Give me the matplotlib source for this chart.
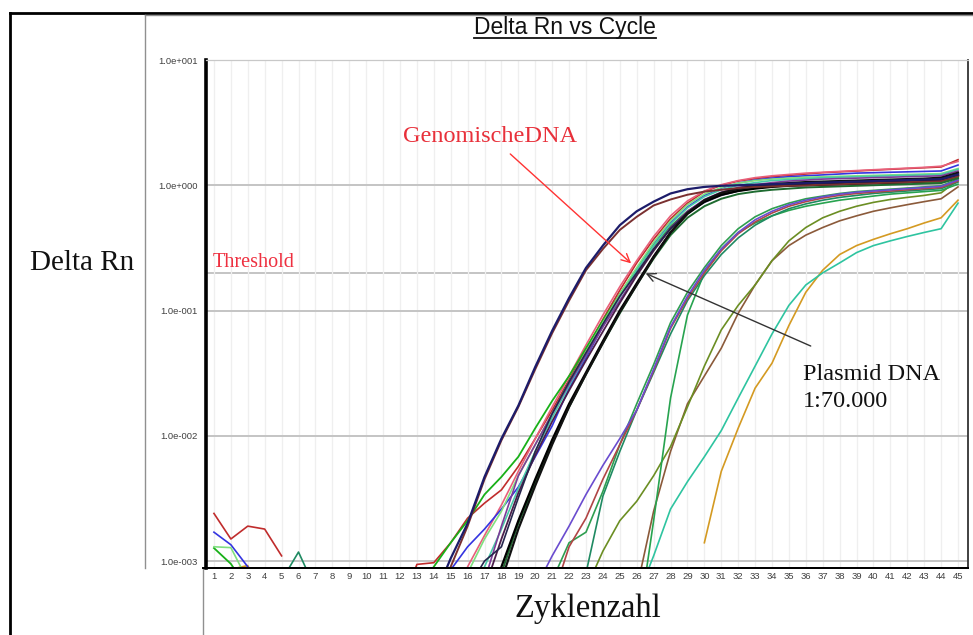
import numpy as np
import matplotlib
matplotlib.use("Agg")
import matplotlib.pyplot as plt
from matplotlib.lines import Line2D
from matplotlib.ticker import NullLocator

nan = np.nan

# cycle axis, threshold and y tick labels
cycles = np.arange(1, 46)
threshold = 0.2
y_ticks = [1e-3, 1e-2, 1e-1, 1, 10]
y_tick_labels = ["1.0e-003", "1.0e-002", "1.0e-001", "1.0e+000", "1.0e+001"]

# Delta Rn per cycle (start cycle + values up to cycle 45)
navy_start = 14
navy = [0.0005, 0.00105, 0.002, 0.0047, 0.0095, 0.0174, 0.0355, 0.069, 0.126, 0.219,
        0.33, 0.48, 0.62, 0.74, 0.86, 0.93, 0.97, 0.99, 1.0, 1.01, 1.02, 1.03, 1.04,
        1.05, 1.06, 1.07, 1.08, 1.09, 1.10, 1.11, 1.12, 1.22]
brown_a_start = 14
brown_a = [0.0004, 0.0009, 0.0019, 0.0045, 0.0092, 0.017, 0.034, 0.066, 0.12, 0.21,
           0.31, 0.44, 0.56, 0.69, 0.77, 0.84, 0.89, 0.92, 0.95, 0.97, 0.98, 0.99, 1.0,
           1.01, 1.02, 1.03, 1.04, 1.05, 1.06, 1.07, 1.08, 1.18]

# genomic DNA bundle
red_noise = [0.0024, 0.0015, 0.0019, 0.0018, 0.0011]
red_start = 12
red = [0.0004, 0.00094, 0.00097, 0.0014, 0.0022, 0.0029, 0.0037, 0.0057, 0.0095, 0.016,
       0.028, 0.049, 0.085, 0.145, 0.24, 0.37, 0.54, 0.72, 0.89, 1.0, 1.08, 1.13, 1.17,
       1.2, 1.23, 1.26, 1.28, 1.30, 1.32, 1.34, 1.36, 1.38, 1.40, 1.60]
green_noise = [0.00127, 0.00095, 0.0006]
green_start = 14
green = [0.0009, 0.0014, 0.0021, 0.0034, 0.0047, 0.0068, 0.0115, 0.019, 0.03, 0.05,
         0.083, 0.135, 0.215, 0.33, 0.47, 0.62, 0.75, 0.85, 0.92, 0.96, 0.99, 1.01,
         1.02, 1.025, 1.03, 1.035, 1.04, 1.045, 1.05, 1.055, 1.06, 1.16]
blue_noise = [0.0017, 0.00135, 0.0009, 0.0005]
blue_start = 15
blue = [0.00085, 0.0013, 0.0018, 0.0026, 0.0039, 0.0068, 0.012, 0.024, 0.042, 0.075,
        0.13, 0.21, 0.34, 0.50, 0.67, 0.83, 0.95, 1.04, 1.10, 1.14, 1.17, 1.19, 1.21,
        1.23, 1.25, 1.26, 1.27, 1.28, 1.29, 1.30, 1.45]
lightgreen_noise = [0.0013, 0.00128, 0.0007]
lightgreen_start = 16
lightgreen = [0.0008, 0.0015, 0.0025, 0.0048, 0.0085, 0.015, 0.027, 0.047, 0.08, 0.135,
              0.22, 0.35, 0.52, 0.70, 0.85, 0.96, 1.04, 1.09, 1.12, 1.14, 1.16, 1.17,
              1.18, 1.19, 1.20, 1.21, 1.22, 1.23, 1.24, 1.36]
darknavy_start = 16
darknavy = [0.0006, 0.001, 0.0013, 0.0032, 0.0075, 0.015, 0.027, 0.046, 0.078, 0.13,
            0.20, 0.31, 0.45, 0.60, 0.73, 0.83, 0.90, 0.95, 0.98, 1.0, 1.02, 1.03, 1.04,
            1.05, 1.06, 1.07, 1.08, 1.09, 1.10, 1.20]
purple_start = 17
purple = [0.0007, 0.0019, 0.0048, 0.0085, 0.015, 0.026, 0.044, 0.074, 0.12, 0.195,
          0.31, 0.46, 0.62, 0.77, 0.88, 0.96, 1.01, 1.05, 1.08, 1.10, 1.12, 1.13, 1.14,
          1.15, 1.16, 1.17, 1.18, 1.19, 1.30]
pink_start = 15
pink = [0.0004, 0.0009, 0.0016, 0.0028, 0.0052, 0.0095, 0.017, 0.03, 0.053, 0.092, 0.155,
        0.25, 0.39, 0.57, 0.75, 0.90, 1.01, 1.09, 1.15, 1.19, 1.22, 1.25, 1.27, 1.29,
        1.31, 1.33, 1.35, 1.37, 1.39, 1.42, 1.55]
turq_start = 16
turq = [0.0004, 0.0009, 0.0018, 0.0038, 0.0075, 0.014, 0.025, 0.044, 0.076, 0.128, 0.21,
        0.33, 0.49, 0.66, 0.81, 0.92, 1.0, 1.05, 1.09, 1.11, 1.13, 1.15, 1.16, 1.17,
        1.18, 1.19, 1.20, 1.21, 1.22, 1.34]
darkpurple_start = 17
darkpurple = [0.0006, 0.0015, 0.0035, 0.007, 0.013, 0.023, 0.04, 0.068, 0.115, 0.19,
              0.30, 0.45, 0.61, 0.75, 0.86, 0.93, 0.98, 1.01, 1.03, 1.05, 1.06, 1.07,
              1.08, 1.09, 1.10, 1.11, 1.12, 1.13, 1.24]
darkgreen_start = 17
darkgreen = [0.0003, 0.0008, 0.002, 0.0042, 0.0088, 0.017, 0.031, 0.055, 0.095, 0.16,
             0.26, 0.40, 0.55, 0.68, 0.78, 0.85, 0.89, 0.92, 0.94, 0.96, 0.97, 0.98,
             0.99, 1.0, 1.01, 1.02, 1.03, 1.04, 1.14]
black1_start = 17
black1 = [0.0003, 0.0009, 0.0021, 0.0045, 0.0093, 0.018, 0.032, 0.057, 0.10, 0.165,
          0.27, 0.42, 0.59, 0.74, 0.84, 0.90, 0.94, 0.97, 0.99, 1.0, 1.01, 1.02, 1.03,
          1.04, 1.05, 1.06, 1.08, 1.10, 1.20]
black2_start = 17
black2 = [0.0003, 0.0007, 0.0018, 0.004, 0.0085, 0.017, 0.031, 0.055, 0.097, 0.16,
          0.265, 0.42, 0.60, 0.76, 0.87, 0.94, 0.99, 1.02, 1.04, 1.06, 1.07, 1.08, 1.09,
          1.10, 1.11, 1.12, 1.13, 1.15, 1.26]

# later curves (plasmid dilutions)
violet_start = 20
violet = [0.0006, 0.0011, 0.0019, 0.0034, 0.0058, 0.0095, 0.016, 0.034, 0.074, 0.13,
          0.21, 0.31, 0.42, 0.53, 0.62, 0.70, 0.76, 0.81, 0.85, 0.88, 0.90, 0.92, 0.94,
          0.96, 0.98, 1.10]
redbrown_start = 21
redbrown = [0.0005, 0.0013, 0.0022, 0.0045, 0.0085, 0.016, 0.033, 0.072, 0.125, 0.20,
            0.30, 0.41, 0.51, 0.60, 0.68, 0.74, 0.79, 0.83, 0.86, 0.88, 0.90, 0.92,
            0.94, 0.96, 1.08]
midgreen_start = 21
midgreen = [0.0007, 0.0014, 0.0017, 0.0036, 0.0085, 0.018, 0.037, 0.08, 0.14, 0.22,
            0.33, 0.45, 0.56, 0.65, 0.72, 0.78, 0.82, 0.86, 0.89, 0.91, 0.93, 0.95,
            0.97, 0.99, 1.12]
teal_noise = [nan, nan, nan, nan, 0.0007, 0.00118, 0.0006]
teal_start = 23
teal = [0.0008, 0.0033, 0.0075, 0.016, 0.032, 0.065, 0.12, 0.19, 0.28, 0.38, 0.48,
        0.57, 0.65, 0.71, 0.76, 0.80, 0.83, 0.86, 0.88, 0.90, 0.92, 0.94, 1.06]
steep_start = 26
steep = [0.00025, 0.0021, 0.02, 0.092, 0.20, 0.31, 0.42, 0.50, 0.57, 0.63, 0.68, 0.72,
         0.76, 0.79, 0.82, 0.85, 0.87, 0.89, 0.91, 1.02]
olive_start = 23
olive = [0.0006, 0.0012, 0.0021, 0.003, 0.0048, 0.0082, 0.017, 0.036, 0.07, 0.11, 0.16,
         0.25, 0.36, 0.46, 0.55, 0.62, 0.68, 0.73, 0.77, 0.80, 0.83, 0.87, 1.1]
brown_start = 26
brown = [0.0006, 0.0025, 0.0075, 0.018, 0.03, 0.05, 0.095, 0.16, 0.25, 0.33, 0.40, 0.46,
         0.52, 0.57, 0.62, 0.66, 0.70, 0.74, 0.78, 0.97]
aqua_start = 26
aqua = [0.0005, 0.0011, 0.0026, 0.0043, 0.0068, 0.011, 0.020, 0.036, 0.065, 0.11, 0.16,
        0.20, 0.24, 0.29, 0.33, 0.36, 0.39, 0.42, 0.45, 0.72]
orange_noise = [nan, 0.00086, 0.00092, 0.0005]
orange_start = 30
orange = [0.0014, 0.0052, 0.0115, 0.024, 0.038, 0.076, 0.14, 0.21, 0.28, 0.33, 0.37,
          0.41, 0.45, 0.50, 0.55, 0.76]


def series(start, vals, head=()):
    ys = list(head) + [nan] * (start - 1 - len(head)) + list(vals)
    return np.array((ys + [nan] * 45)[:45], dtype=float)


W, H = 973, 635
fig = plt.figure(figsize=(W / 100, H / 100), dpi=100)
fig.patch.set_facecolor("white")


def fx(x):
    return x / W


def fy(y):
    return 1 - y / H


ax = fig.add_axes([fx(206), fy(568), fx(968) - fx(206), fy(60) - fy(568)])
ax.set_yscale("log")

# late curves first, the genomic bundle on top, black lines last
ax.plot(cycles, series(orange_start, orange, orange_noise), color="#d49a22", lw=1.2)
ax.plot(cycles, series(aqua_start, aqua), color="#2ec4a0", lw=1.2)
ax.plot(cycles, series(brown_start, brown), color="#8b5a3a", lw=1.2)
ax.plot(cycles, series(olive_start, olive), color="#6b8e23", lw=1.2)
ax.plot(cycles, series(steep_start, steep), color="#27a34f", lw=1.2)
ax.plot(cycles, series(teal_start, teal, teal_noise), color="#1f8a62", lw=1.2)
ax.plot(cycles, series(midgreen_start, midgreen), color="#2e9e50", lw=1.2)
ax.plot(cycles, series(redbrown_start, redbrown), color="#b04545", lw=1.2)
ax.plot(cycles, series(violet_start, violet), color="#6a4ccf", lw=1.2)

ax.plot(cycles, series(red_start, red, red_noise), color="#c02c2c", lw=1.2)
ax.plot(cycles, series(pink_start, pink), color="#e8607a", lw=1.2)
ax.plot(cycles, series(blue_start, blue, blue_noise), color="#3434e0", lw=1.2)
ax.plot(cycles, series(green_start, green, green_noise), color="#18b018", lw=1.3)
ax.plot(cycles, series(lightgreen_start, lightgreen, lightgreen_noise), color="#80e080", lw=1.2)
ax.plot(cycles, series(turq_start, turq), color="#48c9a8", lw=1.2)
ax.plot(cycles, series(purple_start, purple), color="#7d3c98", lw=1.2)
ax.plot(cycles, series(darkpurple_start, darkpurple), color="#4a1f4a", lw=1.3)
ax.plot(cycles, series(darknavy_start, darknavy), color="#26264d", lw=1.2)
ax.plot(cycles, series(darkgreen_start, darkgreen), color="#1e6b30", lw=1.4)
ax.plot(cycles, series(black1_start, black1), color="#000000", lw=1.6)
ax.plot(cycles, series(black2_start, black2), color="#111111", lw=1.6)

ax.plot(cycles, series(brown_a_start, brown_a), color="#7a3030", lw=1.4)
ax.plot(cycles, series(navy_start, navy), color="#1c1c6a", lw=1.6)

ax.axhline(threshold, color="#c4c4c4", lw=1.4, zorder=0.5)

ax.set_xlim(0.53, 45.59)
ax.set_ylim(0.00088, 10)
ax.set_xticks(cycles)
ax.set_xticklabels([str(c) for c in cycles])
ax.set_yticks(y_ticks)
ax.set_yticklabels(y_tick_labels)
ax.yaxis.set_minor_locator(NullLocator())
ax.set_axisbelow(True)
ax.grid(axis="x", color="#efefef", lw=0.9)
ax.grid(axis="y", color="#c4c4c4", lw=1.4)
ax.tick_params(axis="x", length=0, pad=3, labelsize=6.8, labelcolor="#404040")
ax.tick_params(axis="y", length=0, pad=6, labelsize=6.8, labelcolor="#404040")
for lab in ax.get_xticklabels() + ax.get_yticklabels():
    lab.set_family("Liberation Sans")

ax.spines["left"].set_linewidth(2.6)
ax.spines["left"].set_color("black")
ax.spines["bottom"].set_linewidth(1.4)
ax.spines["bottom"].set_color("black")
ax.spines["right"].set_linewidth(1.3)
ax.spines["right"].set_color("#333333")
ax.spines["top"].set_linewidth(0.9)
ax.spines["top"].set_color("#c8c8c8")

# annotation arrows
ax.annotate("", xy=(25.79, 0.23), xytext=(18.4, 1.84),
            arrowprops=dict(arrowstyle="->", color="#ff3333", lw=1.0, mutation_scale=15))
ax.annotate("", xy=(26.38, 0.202), xytext=(36.44, 0.051),
            arrowprops=dict(arrowstyle="->", color="#333333", lw=1.0, mutation_scale=15))

# outer frame and panel borders
fig.add_artist(Line2D([fx(10), 1], [fy(13), fy(13)], color="black", lw=2))
fig.add_artist(Line2D([fx(10), fx(10)], [fy(13), 0], color="black", lw=2))
fig.add_artist(Line2D([fx(145), 1], [fy(15), fy(15)], color="#909090", lw=1))
fig.add_artist(Line2D([fx(145), fx(145)], [fy(15), fy(568)], color="#909090", lw=1))
fig.add_artist(Line2D([fx(203), fx(203)], [fy(568), 0], color="#909090", lw=1))
fig.add_artist(Line2D([fx(203), fx(968)], [fy(568), fy(568)], color="black", lw=1.4))

# texts
serif = "Liberation Serif"
title = fig.text(fx(565), fy(34), "Delta Rn vs Cycle", ha="center", va="baseline",
                 fontsize=16.5, family="Liberation Sans", color="#111111")
fig.text(fx(30), fy(270), "Delta Rn", ha="left", va="baseline", fontsize=21,
         family=serif, color="#111111")
fig.text(fx(213), fy(267), "Threshold", ha="left", va="baseline", fontsize=14.5,
         family=serif, color="#ee3040")
fig.text(fx(403), fy(142), "GenomischeDNA", ha="left", va="baseline", fontsize=17.5,
         family=serif, color="#e8303a")
fig.text(fx(803), fy(380), "Plasmid DNA", ha="left", va="baseline", fontsize=17.5,
         family=serif, color="#111111")
fig.text(fx(803), fy(407), "1:70.000", ha="left", va="baseline", fontsize=17.5,
         family=serif, color="#111111")
fig.text(fx(588), fy(617), "Zyklenzahl", ha="center", va="baseline", fontsize=23.5,
         family=serif, color="#111111")

# underline the title
fig.canvas.draw()
bb = title.get_window_extent().transformed(fig.transFigure.inverted())
fig.add_artist(Line2D([bb.x0, bb.x1], [fy(38), fy(38)], color="#111111", lw=1.3))

fig.savefig("out.png", dpi=100)
